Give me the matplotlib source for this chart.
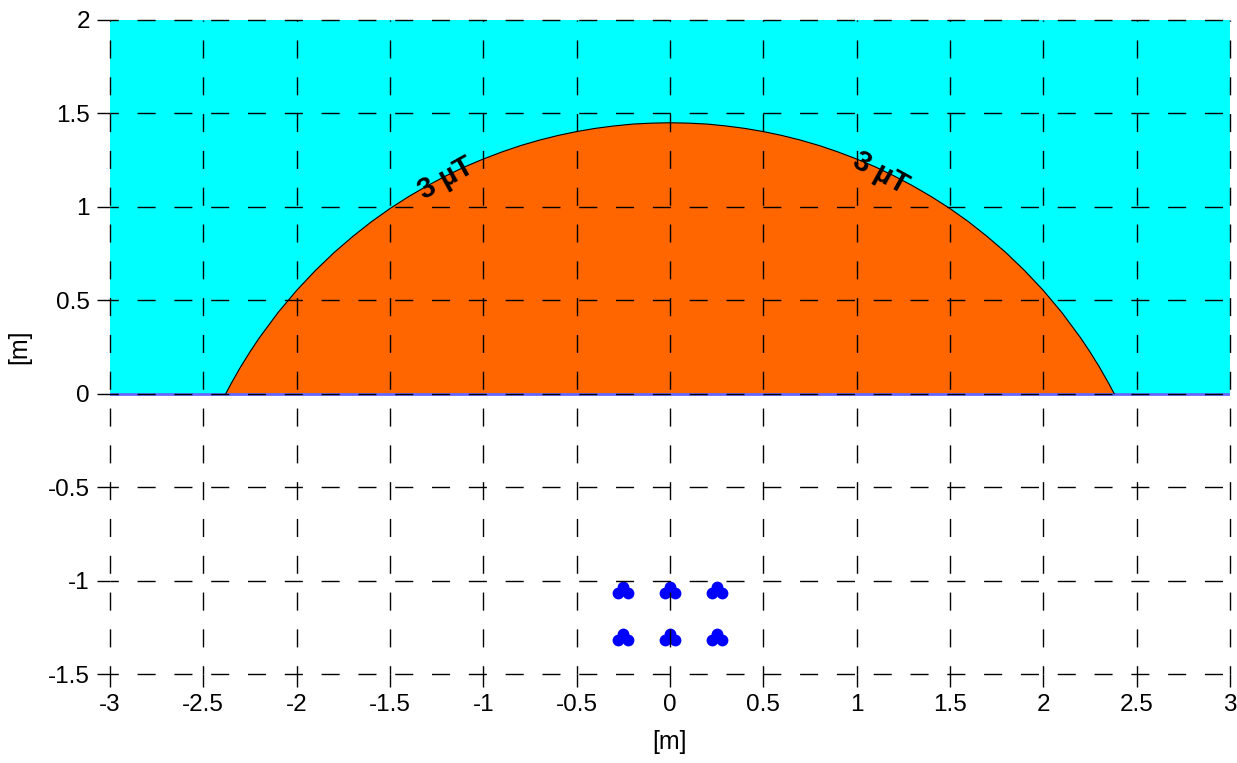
import numpy as np
import matplotlib.pyplot as plt
from matplotlib.patches import Rectangle

plt.rcParams['font.family'] = ['Liberation Sans', 'DejaVu Sans']

# 3 uT contour, right half (x >= 0); mirrored for left half
contour_x = [0.0, 0.1, 0.2, 0.3, 0.4, 0.5, 0.6, 0.7, 0.8, 0.9, 1.0, 1.1, 1.2, 1.3,
             1.4, 1.5, 1.6, 1.7, 1.8, 1.9, 2.0, 2.1, 2.2, 2.25, 2.3, 2.35, 2.38]
contour_y = [1.450, 1.448, 1.443, 1.433, 1.420, 1.403, 1.382, 1.357, 1.328, 1.294,
             1.256, 1.214, 1.166, 1.113, 1.055, 0.991, 0.920, 0.841, 0.755, 0.659,
             0.553, 0.434, 0.299, 0.224, 0.144, 0.056, 0.0]

# conductor bundles (trefoil), sub-conductor centres
bundle_x = [-0.25, 0.0, 0.25]
bundle_y = [-1.065, -1.32]
sub_dx = [0.0, -0.027, 0.027]
sub_dy = [0.033, 0.0, 0.0]

label_text = '3 µT'
label_pos = [(-1.2, 1.15, 29), (1.13, 1.18, -29)]

xticks = [-3, -2.5, -2, -1.5, -1, -0.5, 0, 0.5, 1, 1.5, 2, 2.5, 3]
yticks = [-1.5, -1, -0.5, 0, 0.5, 1, 1.5, 2]


def fmt(v):
    return '{:g}'.format(v)


fig = plt.figure(figsize=(12.37, 7.63), dpi=100)
ax = fig.add_axes([0.0889, 0.1166, 0.9054, 0.8572])

# cyan area above ground
ax.add_patch(Rectangle((-3, 0), 6, 2, facecolor='#00ffff', edgecolor='none', zorder=0))

cx = np.array(contour_x)
cy = np.array(contour_y)
full_x = np.concatenate([-cx[::-1], cx[1:]])
full_y = np.concatenate([cy[::-1], cy[1:]])
ax.fill(full_x, full_y, color='#ff6600', zorder=1, lw=0)
ax.plot(full_x, full_y, color='black', lw=0.8, zorder=2)

# ground line
ax.axhline(0, color='#6666ff', lw=2, zorder=1.5)

# conductors
for bx in bundle_x:
    for by in bundle_y:
        for dx, dy in zip(sub_dx, sub_dy):
            ax.plot(bx + dx, by + dy, 'o', color='#0000ff', ms=8.5, mew=0, zorder=2.5)

for x, y, rot in label_pos:
    ax.text(x, y, label_text, rotation=rot, fontsize=21, fontweight='bold',
            ha='center', va='center', zorder=2.8, rotation_mode='anchor',
            family=['Liberation Sans', 'DejaVu Sans'])

ax.set_xlim(-3, 3)
ax.set_ylim(-1.5, 2)
ax.set_xticks(xticks)
ax.set_yticks(yticks)
ax.set_xticklabels([fmt(v) for v in xticks])
ax.set_yticklabels([fmt(v) for v in yticks])
ax.tick_params(direction='out', length=9.5, width=1, labelsize=17.5, pad=5)
for s in ax.spines.values():
    s.set_visible(False)
ax.grid(True, color='black', linestyle=(7, (13, 13.5)), lw=1.0, zorder=3)
for gl in ax.get_xgridlines() + ax.get_ygridlines():
    gl.set_clip_on(False)
ax.set_axisbelow(False)
ax.set_xlabel('[m]', fontsize=18, labelpad=10)
ax.set_ylabel('[m]', fontsize=18, labelpad=12)

fig.savefig('out.png', dpi=100)
